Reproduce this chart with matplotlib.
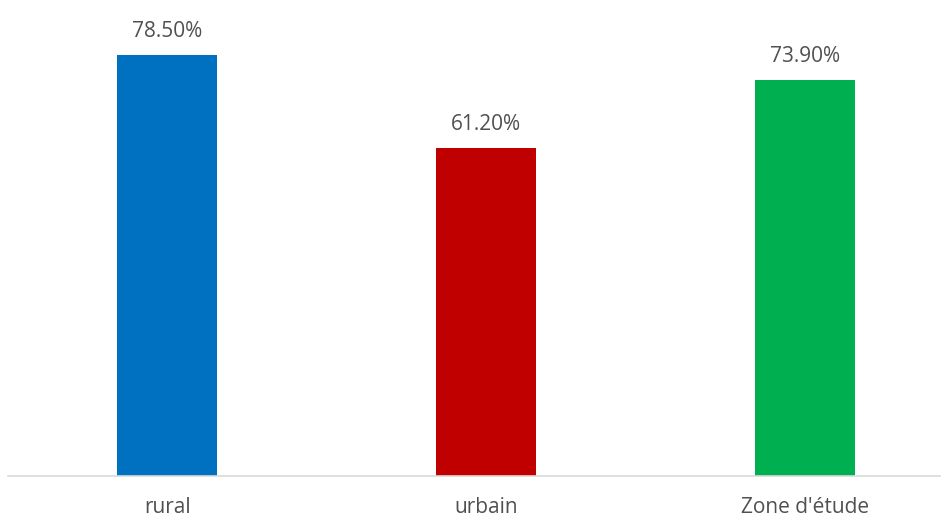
import matplotlib.pyplot as plt

categories = ["rural", "urbain", "Zone d'étude"]
values = [78.5, 61.2, 73.9]
labels = ["78.50%", "61.20%", "73.90%"]
colors = ["#0070C0", "#C00000", "#00B050"]

plt.rcParams['font.family'] = ['Open Sans', 'DejaVu Sans']

fig = plt.figure(figsize=(9.5, 5.18), dpi=100)
ax = fig.add_axes([8 / 950, 42 / 518, 932 / 950, 456 / 518])

x = range(len(categories))
ax.bar(x, values, width=0.314, color=colors, zorder=2)

for xi, v, lab in zip(x, values, labels):
    ax.annotate(lab, (xi, v), xytext=(0, 9), textcoords='offset points',
                ha='center', va='bottom', fontsize=15, color='#505050')

ax.set_xlim(-0.5, 2.425)
ax.set_ylim(0, 85)
ax.set_yticks([])
ax.set_xticks(list(x))
ax.set_xticklabels(categories, fontsize=15, color='#505050')
ax.tick_params(axis='x', length=0, pad=15)

for side in ['top', 'right', 'left']:
    ax.spines[side].set_visible(False)
ax.spines['bottom'].set_color('#D9D9D9')
ax.spines['bottom'].set_linewidth(1.2)

fig.savefig('out.png', dpi=100)
